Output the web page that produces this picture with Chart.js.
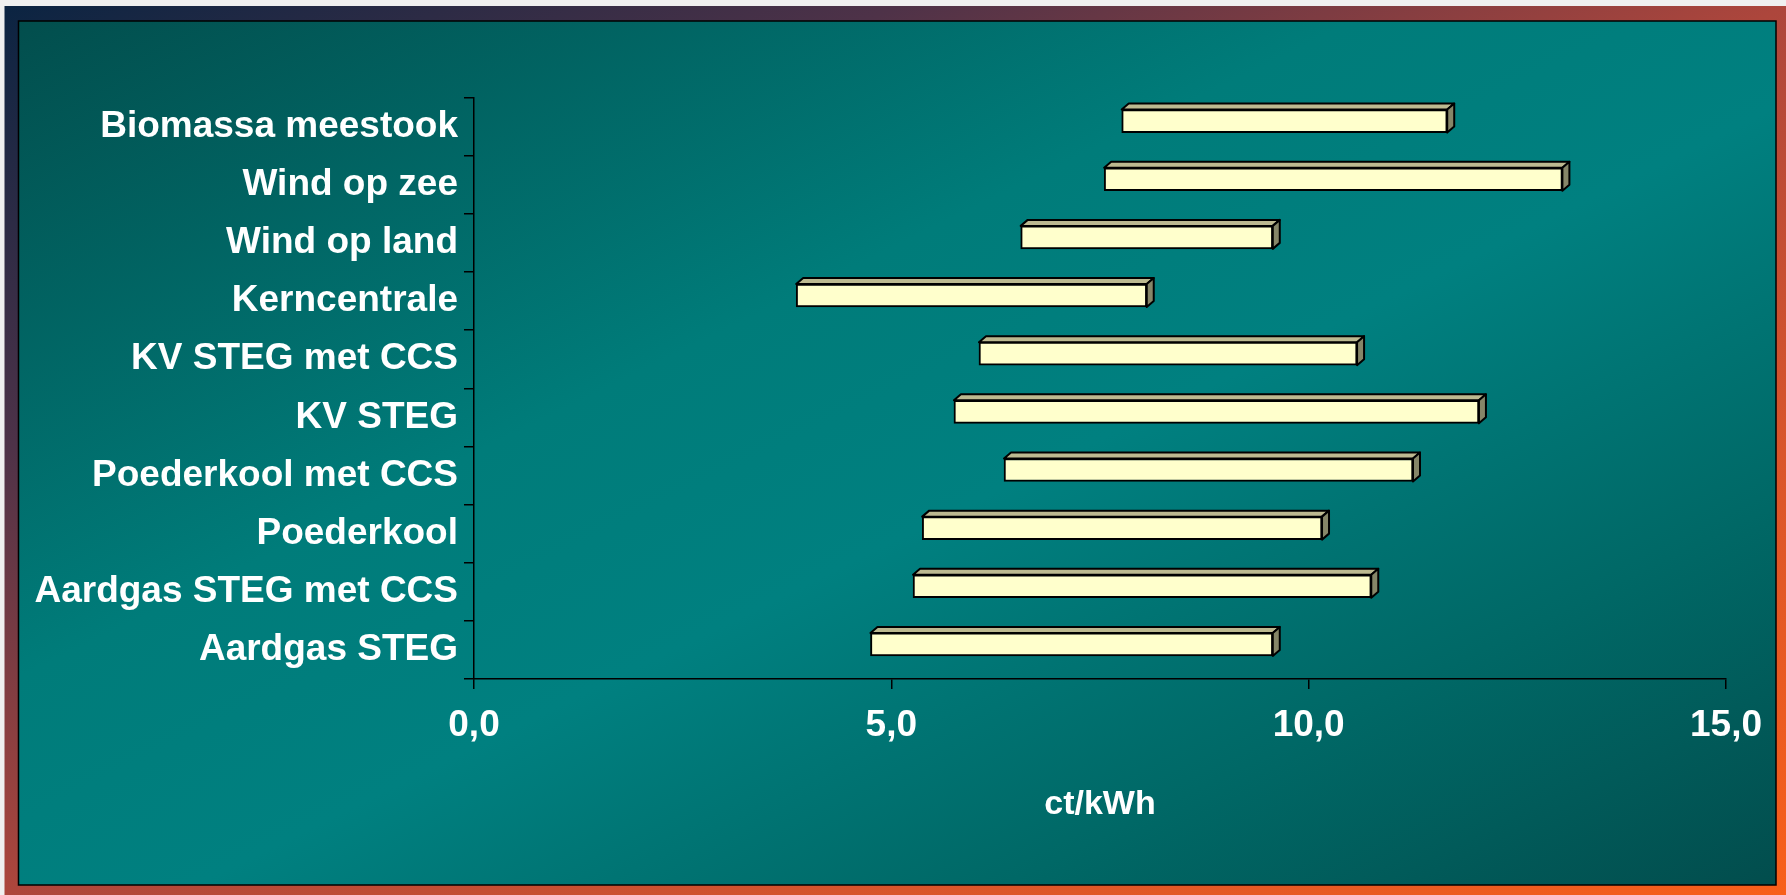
<!DOCTYPE html>
<html>
<head>
<meta charset="utf-8">
<script src="https://cdn.jsdelivr.net/npm/chart.js@4/dist/chart.umd.min.js"></script>
<style>
  html, body { margin: 0; padding: 0; background: #f0f0f0; overflow: hidden; }
  #c { position: absolute; left: 0; top: 0; }
</style>
</head>
<body>
<canvas id="c" width="1786" height="895"></canvas>
<script>
// Cost ranges of electricity production, ct/kWh (low and high estimate per technology)
const categories = [
  'Biomassa meestook',
  'Wind op zee',
  'Wind op land',
  'Kerncentrale',
  'KV STEG met CCS',
  'KV STEG',
  'Poederkool met CCS',
  'Poederkool',
  'Aardgas STEG met CCS',
  'Aardgas STEG'
];
const lowCost  = [7.76, 7.55, 6.55, 3.86, 6.05, 5.75, 6.35, 5.37, 5.26, 4.75];
const highCost = [11.66, 13.04, 9.57, 8.06, 10.58, 12.04, 11.25, 10.16, 10.75, 9.57];
const tickValues = [0, 5, 10, 15];
const tickLabels = ['0,0', '5,0', '10,0', '15,0'];
const axisTitle = 'ct/kWh';

const FONT = "'Liberation Sans', Arial, Helvetica, sans-serif";
const DEPTH_X = 7;      // extrusion of the 3D bars
const DEPTH_Y = 6;
const BAR_SHIFT = -5.5; // bars sit slightly above the band centre

// Slide-style backdrop: gradient frame with a teal panel inside
const backdrop = {
  id: 'backdrop',
  beforeDraw(chart) {
    const ctx = chart.ctx;
    const W = chart.width, H = chart.height;
    ctx.save();
    ctx.fillStyle = '#f0f0f0';
    ctx.fillRect(0, 0, W, H);

    // outer frame
    const fx = 4.5, fy = 6, fw = W - fx, fh = H - fy;
    let cx = fx + fw / 2, cy = fy + fh / 2;
    let ux = fh, uy = fw, n = Math.hypot(ux, uy); ux /= n; uy /= n;
    let half = Math.abs((fw / 2) * ux) + Math.abs((fh / 2) * uy);
    let g = ctx.createLinearGradient(cx - ux * half, cy - uy * half, cx + ux * half, cy + uy * half);
    g.addColorStop(0, '#0b2442');
    g.addColorStop(0.25, '#4e3248');
    g.addColorStop(0.5, '#ad463c');
    g.addColorStop(0.75, '#d9552b');
    g.addColorStop(1, '#f85f1a');
    ctx.fillStyle = g;
    ctx.fillRect(fx, fy, fw, fh);

    // inner teal panel
    const px = 18.5, py = 21, pw = 1776 - 18.5, ph = 885 - 21;
    cx = px + pw / 2; cy = py + ph / 2;
    ux = ph; uy = pw; n = Math.hypot(ux, uy); ux /= n; uy /= n;
    half = Math.abs((pw / 2) * ux) + Math.abs((ph / 2) * uy);
    g = ctx.createLinearGradient(cx - ux * half, cy - uy * half, cx + ux * half, cy + uy * half);
    g.addColorStop(0, '#024e4d');
    g.addColorStop(0.38, '#007c7a');
    g.addColorStop(0.55, '#008080');
    g.addColorStop(0.78, '#006866');
    g.addColorStop(1, '#024d4d');
    ctx.fillStyle = g;
    ctx.fillRect(px, py, pw, ph);
    ctx.lineWidth = 1.5;
    ctx.strokeStyle = '#000';
    ctx.strokeRect(px, py, pw, ph);
    ctx.restore();
  }
};

// Top and side faces that give each floating bar its 3D look
const bars3d = {
  id: 'bars3d',
  beforeDatasetsDraw(chart) {
    const ctx = chart.ctx;
    ctx.save();
    ctx.translate(0, BAR_SHIFT);
    chart.getDatasetMeta(0).data.forEach(bar => {
      const { x, y, base, height } = bar.getProps(['x', 'y', 'base', 'height'], true);
      const left = Math.min(x, base), right = Math.max(x, base);
      const top = y - height / 2, bottom = y + height / 2;
      ctx.lineWidth = 2;
      ctx.lineJoin = 'round';
      ctx.strokeStyle = '#000';
      // top face
      ctx.beginPath();
      ctx.moveTo(left, top);
      ctx.lineTo(left + DEPTH_X, top - DEPTH_Y);
      ctx.lineTo(right + DEPTH_X, top - DEPTH_Y);
      ctx.lineTo(right, top);
      ctx.closePath();
      ctx.fillStyle = '#bcb990';
      ctx.fill();
      ctx.stroke();
      // side face
      ctx.beginPath();
      ctx.moveTo(right, top);
      ctx.lineTo(right + DEPTH_X, top - DEPTH_Y);
      ctx.lineTo(right + DEPTH_X, bottom - DEPTH_Y);
      ctx.lineTo(right, bottom);
      ctx.closePath();
      ctx.fillStyle = '#868668';
      ctx.fill();
      ctx.stroke();
    });
  },
  afterDatasetsDraw(chart) {
    chart.ctx.restore();
  }
};

new Chart(document.getElementById('c'), {
  type: 'bar',
  data: {
    labels: categories,
    datasets: [{
      data: categories.map((_, i) => [lowCost[i], highCost[i]]),
      backgroundColor: '#ffffcc',
      borderColor: '#000',
      borderWidth: 2,
      borderSkipped: false,
      barThickness: 23
    }]
  },
  options: {
    indexAxis: 'y',
    responsive: false,
    animation: false,
    devicePixelRatio: 1,
    layout: { padding: { left: 0, top: 97.5, right: 60, bottom: 0 } },
    plugins: {
      legend: { display: false },
      tooltip: { enabled: false }
    },
    scales: {
      y: {
        type: 'category',
        afterFit: s => { s.width = 474; },
        grid: {
          display: true,
          drawOnChartArea: false,
          drawTicks: true,
          tickLength: 10,
          offset: true,
          color: '#000',
          lineWidth: 1.5
        },
        border: { display: true, color: '#000', width: 1.5 },
        ticks: {
          color: '#ffffff',
          padding: 6,
          font: { family: FONT, weight: 'bold', size: 37 }
        }
      },
      x: {
        type: 'linear',
        min: tickValues[0],
        max: tickValues[tickValues.length - 1],
        afterFit: s => { s.height = 895 - 679; },
        afterBuildTicks: s => { s.ticks = tickValues.map(v => ({ value: v })); },
        grid: {
          display: true,
          drawOnChartArea: false,
          drawTicks: true,
          tickLength: 10,
          color: '#000',
          lineWidth: 1.5
        },
        border: { display: true, color: '#000', width: 1.5 },
        ticks: {
          color: '#ffffff',
          padding: 15,
          maxRotation: 0,
          autoSkip: false,
          font: { family: FONT, weight: 'bold', size: 37 },
          callback: v => tickLabels[tickValues.indexOf(v)]
        },
        title: {
          display: true,
          text: axisTitle,
          color: '#ffffff',
          font: { family: FONT, weight: 'bold', size: 34 },
          padding: { top: 0, bottom: 70 }
        }
      }
    }
  },
  plugins: [backdrop, bars3d]
});
</script>
</body>
</html>
